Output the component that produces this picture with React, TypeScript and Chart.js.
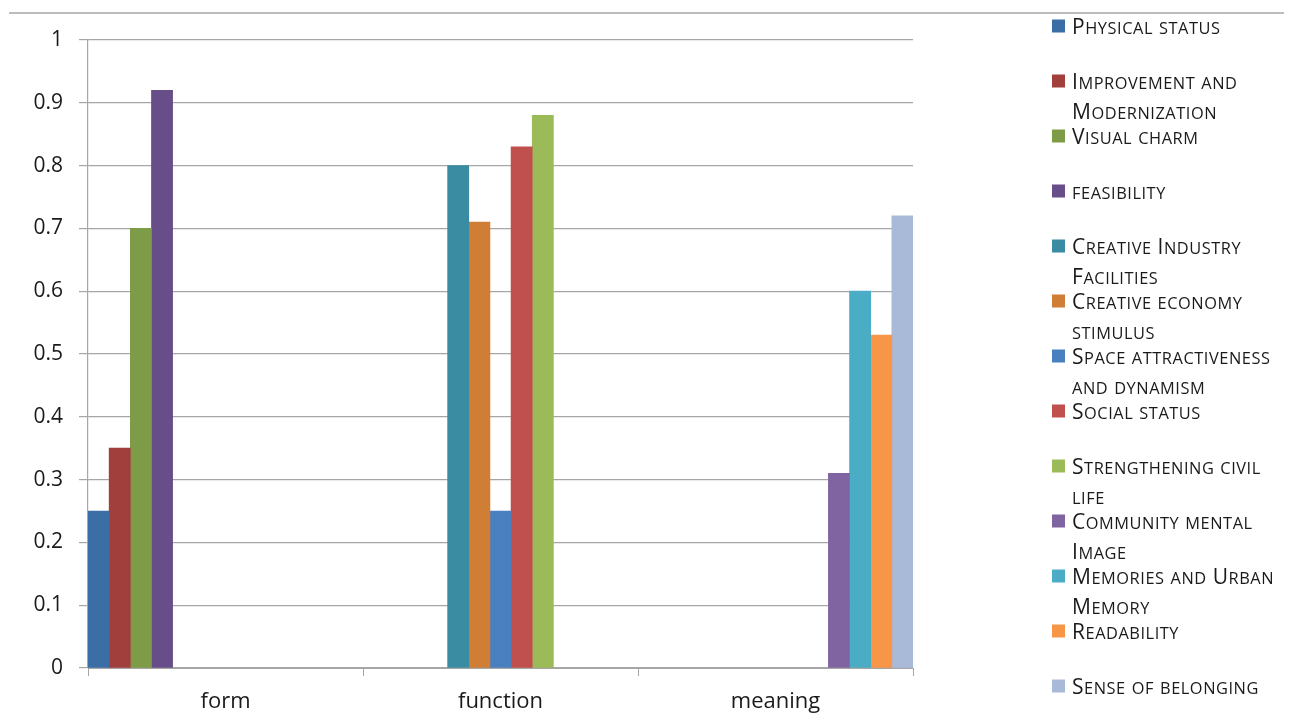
import React, { useEffect, useRef } from 'react';
import { Chart, registerables } from 'chart.js';

Chart.register(...registerables);

const categories = ['form', 'function', 'meaning'];

const seriesLegendLines: string[][] = [
  ['Physical status'],
  ['Improvement and', 'Modernization'],
  ['Visual charm'],
  ['feasibility'],
  ['Creative Industry', 'Facilities'],
  ['Creative economy', 'stimulus'],
  ['Space attractiveness', 'and dynamism'],
  ['Social status'],
  ['Strengthening civil', 'life'],
  ['Community mental', 'Image'],
  ['Memories and Urban', 'Memory'],
  ['Readability'],
  ['Sense of belonging'],
];

const seriesColors = [
  '#3C6EA6', '#A13F3C', '#7E9B48', '#684E88', '#3A8CA3', '#D07E35', '#4A7FC0',
  '#C0504D', '#9BBB59', '#8064A2', '#4BACC6', '#F79646', '#A9BAD8',
];

const physicalStatus = [0.25, null, null];
const improvementModernization = [0.35, null, null];
const visualCharm = [0.7, null, null];
const feasibility = [0.92, null, null];
const creativeIndustryFacilities = [null, 0.8, null];
const creativeEconomyStimulus = [null, 0.71, null];
const spaceAttractiveness = [null, 0.25, null];
const socialStatus = [null, 0.83, null];
const strengtheningCivilLife = [null, 0.88, null];
const communityMentalImage = [null, null, 0.31];
const memoriesUrbanMemory = [null, null, 0.6];
const readability = [null, null, 0.53];
const senseOfBelonging = [null, null, 0.72];

const seriesValues = [
  physicalStatus, improvementModernization, visualCharm, feasibility,
  creativeIndustryFacilities, creativeEconomyStimulus, spaceAttractiveness,
  socialStatus, strengtheningCivilLife, communityMentalImage,
  memoriesUrbanMemory, readability, senseOfBelonging,
];

const FONT = '"Open Sans", Lato, sans-serif';
const GRID = '#a6a6a6';

function drawSmallCaps(ctx: CanvasRenderingContext2D, text: string, x: number, y: number, size: number, scale: number, spacing: number) {
  let cx = x;
  for (const ch of text) {
    const lower = ch !== ch.toUpperCase();
    const s = lower ? size * scale : size;
    const c = lower ? ch.toUpperCase() : ch;
    ctx.font = `${s}px ${FONT}`;
    ctx.fillText(c, cx, y);
    cx += ctx.measureText(c).width + spacing;
  }
}

const legendPlugin = {
  id: 'sideLegend',
  afterDraw(chart: any) {
    const ctx: CanvasRenderingContext2D = chart.ctx;
    ctx.save();
    ctx.strokeStyle = GRID;
    ctx.lineWidth = 1.5;
    ctx.beginPath();
    ctx.moveTo(9, 13);
    ctx.lineTo(1284, 13);
    ctx.stroke();

    ctx.textBaseline = 'alphabetic';
    ctx.textAlign = 'left';
    chart.data.datasets.forEach((ds: any, i: number) => {
      const base = 33.5 + 55 * i;
      ctx.fillStyle = ds.backgroundColor;
      ctx.fillRect(1052, base - 14, 13, 13);
      ctx.fillStyle = '#1a1a1a';
      const lines = seriesLegendLines[i];
      lines.forEach((line, j) => {
        drawSmallCaps(ctx, line, 1072, base + j * 30, 21, 0.78, 0.55);
      });
    });
    ctx.restore();
  },
};

export default function App() {
  const ref = useRef<HTMLCanvasElement | null>(null);
  useEffect(() => {
    if (!ref.current) return;
    const chart = new Chart(ref.current, {
      type: 'bar',
      data: {
        labels: categories,
        datasets: seriesValues.map((vals, i) => ({
          label: seriesLegendLines[i].join(' '),
          data: vals as any,
          backgroundColor: seriesColors[i],
          borderWidth: 0,
          barPercentage: 1,
          categoryPercentage: 1,
        })),
      },
      options: {
        animation: false,
        responsive: false,
        maintainAspectRatio: false,
        layout: { padding: { top: 40, right: 379, left: 0, bottom: 0 } },
        plugins: { legend: { display: false }, tooltip: { enabled: false } },
        scales: {
          x: {
            grid: { drawOnChartArea: false, drawTicks: true, tickLength: 8, color: GRID, offset: true },
            border: { color: GRID, width: 1 },
            ticks: { font: { family: FONT, size: 22 }, color: '#1a1a1a', padding: 13 },
            afterFit: (s: any) => { s.height = 50; },
          },
          y: {
            min: 0,
            max: 1,
            ticks: {
              stepSize: 0.1,
              font: { family: FONT, size: 21 },
              color: '#1a1a1a',
              padding: 16,
              callback: (v: any) => String(Math.round(Number(v) * 10) / 10),
            },
            grid: { color: GRID, tickLength: 9, lineWidth: 1.2 },
            border: { color: GRID, width: 1.2 },
            afterFit: (s: any) => { s.width = 88; },
          },
        },
      },
      plugins: [legendPlugin],
    });
    return () => chart.destroy();
  }, []);
  return (
    <div style={{ position: 'fixed', left: 0, top: 0, width: 1292, height: 718, background: '#fff' }}>
      <canvas ref={ref} width={1292} height={718} style={{ width: 1292, height: 718, display: 'block' }} />
    </div>
  );
}
